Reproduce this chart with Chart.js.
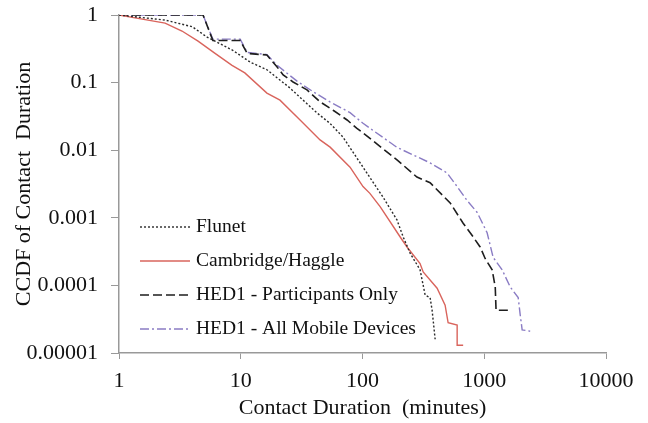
<!DOCTYPE html>
<html lang="en">
<head>
    <meta charset="UTF-8">
    <title>CCDF of Contact Duration</title>
    <script src="https://cdn.jsdelivr.net/npm/chart.js@4.4.1/dist/chart.umd.min.js"></script>
    <style>
        body {
            margin: 0;
            background-color: #ffffff;
        }
        #canvas {
            display: block;
        }
    </style>
</head>
<body>
    <canvas id="canvas" width="648" height="423"></canvas>

    <script>
        // Tick values and labels
        const xTicks = [1, 10, 100, 1000, 10000];
        const xTickLabels = ['1', '10', '100', '1000', '10000'];
        const yTicks = [1, 0.1, 0.01, 0.001, 0.0001, 0.00001];
        const yTickLabels = ['1', '0.1', '0.01', '0.001', '0.0001', '0.00001'];

        // Series names
        const seriesNames = ['Flunet', 'Cambridge/Haggle', 'HED1 - Participants Only', 'HED1 - All Mobile Devices'];

        // Flunet
        const flunetX = [1, 2.4, 4.0, 5.3, 8.6, 12, 16.4, 25, 42, 54, 69, 101, 148, 192, 216, 246, 297, 327, 359, 373, 395];
        const flunetY = [1, 0.84, 0.67, 0.47, 0.30, 0.2, 0.155, 0.085, 0.036, 0.025, 0.0157, 0.0056, 0.002, 0.00093, 0.00052, 0.0003, 0.00017, 0.000072, 0.000066, 0.000043, 0.000016];

        // Cambridge/Haggle
        const cambX = [1, 1.73, 2.39, 3.29, 4.46, 6.15, 8.48, 10.8, 16.4, 21, 30.7, 44.8, 54.2, 79, 101, 115, 140, 204, 232, 297, 315, 410, 477, 505, 599, 599, 671];
        const cambY = [1, 0.84, 0.76, 0.58, 0.41, 0.27, 0.18, 0.139, 0.07, 0.055, 0.028, 0.0142, 0.0111, 0.0056, 0.0029, 0.0023, 0.00145, 0.00052, 0.00037, 0.00021, 0.000158, 0.000091, 0.000051, 0.000028, 0.000026, 0.000013, 0.000013];

        // HED1 - Participants Only
        const partX = [1, 4.9, 5.9, 9.9, 11.3, 16.4, 19.9, 22.3, 26.9, 35, 44.8, 57.4, 74.7, 90, 101, 192, 280, 359, 525, 671, 812, 925, 1017, 1161, 1231, 1250, 1633];
        const partY = [1, 1, 0.42, 0.42, 0.27, 0.256, 0.17, 0.13, 0.102, 0.078, 0.052, 0.039, 0.028, 0.021, 0.018, 0.0072, 0.004, 0.0033, 0.00166, 0.00083, 0.00052, 0.00037, 0.00025, 0.00017, 0.000095, 0.000043, 0.000043];

        // HED1 - All Mobile Devices
        const allX = [1, 4.9, 5.9, 9.9, 11.3, 16.4, 19.9, 29, 39, 54, 79, 101, 192, 359, 495, 599, 723, 875, 1056, 1183, 1403, 1633, 1900, 1973, 2048, 2383];
        const allY = [1, 1, 0.44, 0.44, 0.28, 0.26, 0.18, 0.105, 0.074, 0.052, 0.036, 0.025, 0.011, 0.0065, 0.0046, 0.0029, 0.0018, 0.0012, 0.0006, 0.00026, 0.00017, 0.000095, 0.000066, 0.000037, 0.000022, 0.000021];

        function toPoints(xs, ys) {
            return xs.map((x, i) => ({ x: x, y: ys[i] }));
        }

        // Legend drawn inside the plot area, lower left
        const insideLegend = {
            id: 'insideLegend',
            afterDraw(chart) {
                const ctx = chart.ctx;
                const area = chart.chartArea;
                const x0 = area.left + 21;
                const y0 = area.top + 212;
                ctx.save();
                ctx.font = '19.5px "Liberation Serif", "Times New Roman", serif';
                ctx.textBaseline = 'middle';
                chart.data.datasets.forEach((ds, i) => {
                    const y = y0 + i * 34;
                    ctx.strokeStyle = ds.borderColor;
                    ctx.lineWidth = ds.borderWidth;
                    ctx.setLineDash(ds.borderDash || []);
                    ctx.beginPath();
                    ctx.moveTo(x0, y);
                    ctx.lineTo(x0 + 50, y);
                    ctx.stroke();
                    ctx.setLineDash([]);
                    ctx.fillStyle = '#111';
                    ctx.fillText(ds.label, x0 + 56, y);
                });
                ctx.restore();
            }
        };

        const serif = '"Liberation Serif", "Times New Roman", serif';

        new Chart(document.getElementById('canvas').getContext('2d'), {
            type: 'line',
            data: {
                datasets: [
                    {
                        label: seriesNames[0],
                        data: toPoints(flunetX, flunetY),
                        borderColor: '#2a2a2a',
                        borderWidth: 1.4,
                        borderDash: [2, 2]
                    },
                    {
                        label: seriesNames[1],
                        data: toPoints(cambX, cambY),
                        borderColor: '#d9645c',
                        borderWidth: 1.4
                    },
                    {
                        label: seriesNames[2],
                        data: toPoints(partX, partY),
                        borderColor: '#1e1e1e',
                        borderWidth: 1.6,
                        borderDash: [9, 4]
                    },
                    {
                        label: seriesNames[3],
                        data: toPoints(allX, allY),
                        borderColor: '#8a7cc4',
                        borderWidth: 1.4,
                        borderDash: [9, 3, 2, 3]
                    }
                ]
            },
            options: {
                responsive: false,
                animation: false,
                layout: { padding: { left: 0, right: 42, top: 15, bottom: 0 } },
                elements: {
                    point: { radius: 0 },
                    line: { tension: 0, fill: false }
                },
                scales: {
                    x: {
                        type: 'logarithmic',
                        min: 1,
                        max: 10000,
                        afterBuildTicks: s => { s.ticks = xTicks.map(v => ({ value: v })); },
                        afterFit: s => { s.height = 70; s.paddingLeft = 0; s.paddingRight = 0; },
                        ticks: {
                            autoSkip: false,
                            maxRotation: 0,
                            padding: 9,
                            color: '#111',
                            font: { family: serif, size: 22 },
                            callback: (v) => xTickLabels[xTicks.indexOf(v)]
                        },
                        grid: { drawOnChartArea: false, drawTicks: true, tickLength: 6, color: '#999' },
                        border: { display: true, color: '#999', width: 1.5 },
                        title: {
                            display: true,
                            text: 'Contact Duration  (minutes)',
                            color: '#111',
                            font: { family: serif, size: 22, lineHeight: 1.2 },
                            padding: { top: 0, bottom: 2 }
                        }
                    },
                    y: {
                        type: 'logarithmic',
                        min: 0.00001,
                        max: 1,
                        afterBuildTicks: s => { s.ticks = yTicks.map(v => ({ value: v })); },
                        afterFit: s => { s.width = 119; s.paddingTop = 0; s.paddingBottom = 0; },
                        ticks: {
                            autoSkip: false,
                            padding: 13,
                            color: '#111',
                            font: { family: serif, size: 22 },
                            callback: (v) => yTickLabels[yTicks.indexOf(v)]
                        },
                        grid: { drawOnChartArea: false, drawTicks: true, tickLength: 8, color: '#999' },
                        border: { display: true, color: '#999', width: 1.5 },
                        title: {
                            display: true,
                            text: 'CCDF of Contact  Duration',
                            color: '#111',
                            font: { family: serif, size: 22, lineHeight: 1.2 },
                            padding: { top: 11, bottom: 0 }
                        }
                    }
                },
                plugins: {
                    legend: { display: false },
                    tooltip: { enabled: false }
                }
            },
            plugins: [insideLegend]
        });
    </script>
</body>
</html>
